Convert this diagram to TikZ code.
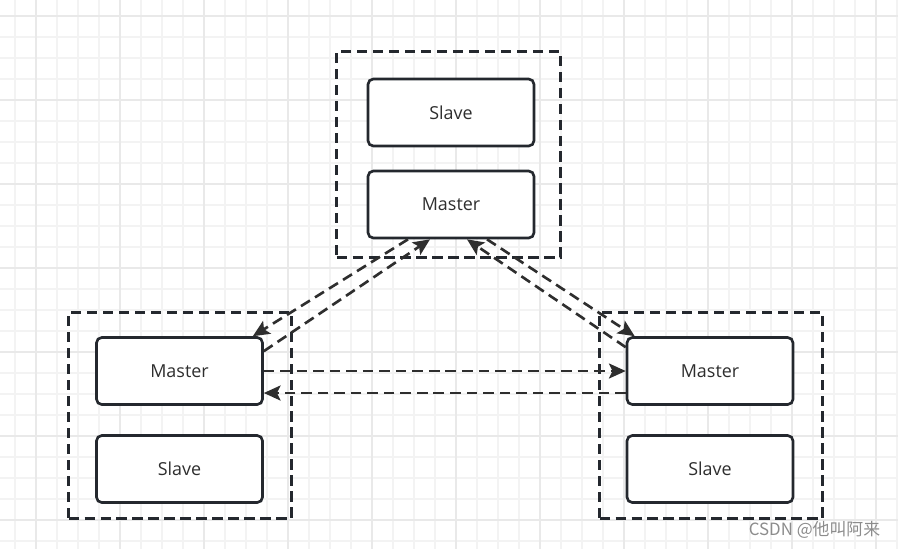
\documentclass[tikz,border=0pt]{standalone}
\usepackage{fontspec}
\setmainfont{Open Sans}
\newfontfamily\cjkfont{Noto Sans CJK SC}
\usetikzlibrary{arrows.meta, positioning, calc}
\definecolor{gridminor}{HTML}{F3F3F3}
\definecolor{gridmajor}{HTML}{E9E9E9}
\definecolor{edgedark}{HTML}{24282E}
\definecolor{textdark}{HTML}{2E2E2E}

\begin{document}
\begin{tikzpicture}[x=0.02cm, y=-0.02cm,
    redis/.style={draw=edgedark, line width=1.5pt, rounded corners=3pt, fill=white,
      minimum width=3.32cm, minimum height=1.34cm, text=textdark, font=\fontsize{10.2}{12}\selectfont},
    group/.style={draw=edgedark, line width=1.5pt, dash pattern=on 5.8pt off 3.3pt,
      minimum width=4.48cm, minimum height=4.12cm},
    link/.style={draw=textdark, line width=1.5pt, dash pattern=on 6pt off 3.4pt,
      -{Stealth[length=9.5pt, width=8.5pt, inset=2pt]}}]
      \fill[white] (0, 0) rectangle (898, 549);
      \useasboundingbox (0, 0) rectangle (898, 549);

      \foreach \x in {15, 36, ..., 897} \draw[gridminor, line width=0.6pt] (\x, 0) -- (\x, 549);
      \foreach \y in {16, 37, ..., 549} \draw[gridminor, line width=0.6pt] (0, \y) -- (898, \y);
      \foreach \x in {36, 120, ..., 897} \draw[gridmajor, line width=0.6pt] (\x, 0) -- (\x, 549);
      \foreach \y in {16, 100, ..., 549} \draw[gridmajor, line width=0.6pt] (0, \y) -- (898, \y);

      \node[group] (tc) at (448.5, 154.5) {};
      \node[group, minimum width=4.46cm] (lc) at (180, 415.5) {};
      \node[group, minimum width=4.46cm] (rc) at (711, 415.5) {};

      \node[redis] (ts) at (451, 112.5) {Slave};
      \node[redis] (tm) at (451, 204.5) {Master};
      \node[redis] (lm) at (179.5, 371) {Master};
      \node[redis] (ls) at (179.5, 469) {Slave};
      \node[redis] (rm) at (710, 371) {Master};
      \node[redis] (rs) at (710, 469) {Slave};

      \draw[link] ($(lm.north east)+(0, 15)$) -- ($(tm.south)+(-21, 0)$);
      \draw[link] ($(tm.south)+(-43, 0)$) -- ($(lm.north east)+(-11, 0)$);
      \draw[link] ($(rm.north west)+(0, 11)$) -- ($(tm.south)+(16, 0)$);
      \draw[link] ($(tm.south)+(36, 0)$) -- ($(rm.north west)+(9, 0)$);
      \draw[link] (lm.east) -- (rm.west);
      \draw[link] ($(rm.west)+(0, 22)$) -- ($(lm.east)+(0, 22)$);

      \node[text=black!45, font=\cjkfont\fontsize{9.6}{11}\selectfont] (mark) at (814.5, 530) {CSDN @他叫阿来};
    \end{tikzpicture}
\end{document}
